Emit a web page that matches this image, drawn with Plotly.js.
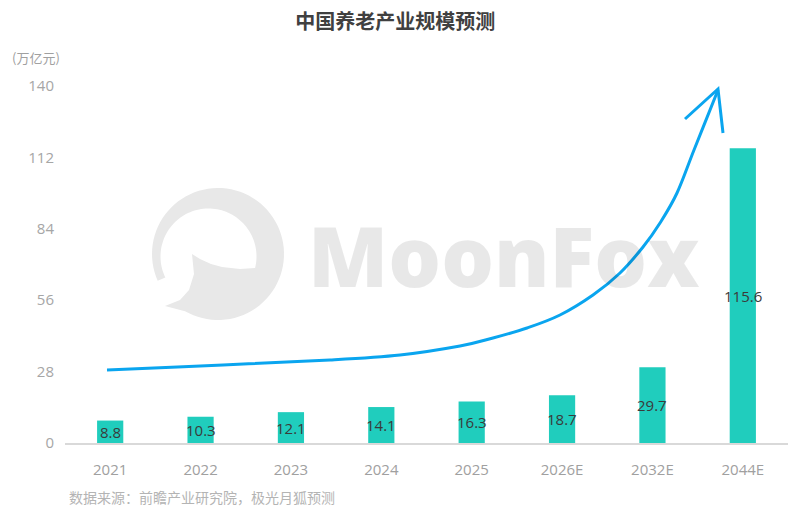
<!DOCTYPE html>
<html>
<head>
<meta charset="utf-8">
<script src="https://cdn.plot.ly/plotly-3.0.1.min.js"></script>
<style>html,body{margin:0;padding:0;background:#fff;}#chart{width:800px;height:521px;}</style>
</head>
<body>
<div id="chart"></div>
<script>
// ---- data ----
const categories = ['2021', '2022', '2023', '2024', '2025', '2026E', '2032E', '2044E'];
const values = [8.8, 10.3, 12.1, 14.1, 16.3, 18.7, 29.7, 115.6];
const yTickVals = [0, 28, 56, 84, 112, 140];
const yTickText = ['0', '28', '56', '84', '112', '140'];
const titleText = '中国养老产业规模预测';
const unitText = '(万亿元)';
const sourceText = '数据来源：前瞻产业研究院，极光月狐预测';
const watermarkText = 'MoonFox';

// ---- layout geometry (pixels) ----
const W = 800, Hh = 521;
const mL = 65, mR = 12, mT = 86, mB = 78;
const PW = W - mL - mR, PH = Hh - mT - mB;
const px = x => (x - mL) / PW;
const py = y => (mT + PH - y) / PH;

const FONT = '"Open Sans", "Noto Sans CJK SC", sans-serif';
const CJK = '"Noto Sans CJK SC", "Open Sans", sans-serif';

// decorative growth arrow (pixel guide points)
const arrowPts = [[107,370],[223,365],[330,360],[400,355],[460,346],[493,338],[527,328],[560,315],[593,295],[620,273],[643,247],[660,223],[677,193],[694,150],[718,90]];
function smoothPath(pts) {
  const P = (p) => px(p[0]).toFixed(5) + ',' + py(p[1]).toFixed(5);
  let d = 'M' + P(pts[0]);
  for (let i = 0; i < pts.length - 1; i++) {
    const p0 = pts[Math.max(i - 1, 0)], p1 = pts[i], p2 = pts[i + 1], p3 = pts[Math.min(i + 2, pts.length - 1)];
    const c1 = [p1[0] + (p2[0] - p0[0]) / 6, p1[1] + (p2[1] - p0[1]) / 6];
    const c2 = [p2[0] - (p3[0] - p1[0]) / 6, p2[1] - (p3[1] - p1[1]) / 6];
    d += ' C' + P(c1) + ' ' + P(c2) + ' ' + P(p2);
  }
  return d;
}
function polyPath(pts, close) {
  let d = '';
  pts.forEach((p, i) => { d += (i ? ' L' : 'M') + px(p[0]).toFixed(5) + ',' + py(p[1]).toFixed(5); });
  return d + (close ? ' Z' : '');
}
function arcPts(cx, cy, r, a0, a1, n) {
  const out = [];
  for (let i = 0; i <= n; i++) {
    const a = (a0 + (a1 - a0) * i / n) * Math.PI / 180;
    out.push([cx + r * Math.cos(a), cy + r * Math.sin(a)]);
  }
  return out;
}
// watermark logo outline
let logo = [];
logo = logo.concat(arcPts(218, 254, 66, 156, 480, 80));
logo.push([165, 306]);
logo = logo.concat([[180, 300], [189, 290], [194, 274], [192, 254]]);
logo = logo.concat([[200, 259], [211, 264], [222, 267], [240, 269], [255, 268]]);
logo = logo.concat(arcPts(208.5, 256.5, 48, 14, -206, 80));

const shapes = [
  { type: 'path', xref: 'paper', yref: 'paper', layer: 'below', path: polyPath(logo, true),
    fillcolor: '#e8e8e8', line: { width: 0 } },
  { type: 'path', xref: 'paper', yref: 'paper', layer: 'above', path: smoothPath(arrowPts),
    line: { color: '#0aa5ef', width: 3 } },
  { type: 'path', xref: 'paper', yref: 'paper', layer: 'above',
    path: polyPath([[685, 119], [718, 89], [723, 133]], false),
    line: { color: '#0aa5ef', width: 3 } }
];

const annotations = [
  { xref: 'paper', yref: 'paper', x: px(10), y: py(57), xanchor: 'left', yanchor: 'middle',
    text: unitText, showarrow: false, font: { family: CJK, size: 13, color: '#a0a0a0' } },
  { xref: 'paper', yref: 'paper', x: px(67), y: py(497), xanchor: 'left', yanchor: 'middle',
    text: sourceText, showarrow: false, font: { family: CJK, size: 14, color: '#b4b4b4' } },
  { xref: 'paper', yref: 'paper', x: px(504), y: py(254), xanchor: 'center', yanchor: 'middle',
    text: watermarkText, showarrow: false,
    font: { family: '"Open Sans", sans-serif', size: 83, weight: 800, color: 'rgba(0,0,0,0.09)' } }
];
categories.forEach((c, i) => {
  annotations.push({ x: i, y: values[i] / 2, xref: 'x', yref: 'y', text: values[i].toFixed(1),
    showarrow: false, xanchor: 'center', yanchor: 'middle',
    font: { family: FONT, size: 15, color: '#3a3a3a' } });
});

const trace = {
  type: 'bar', x: categories, y: values,
  marker: { color: '#20cdbd' }, hoverinfo: 'x+y', showlegend: false
};

const layout = {
  width: W, height: Hh,
  margin: { l: mL, r: mR, t: mT, b: mB, pad: 0 },
  paper_bgcolor: '#ffffff', plot_bgcolor: 'rgba(0,0,0,0)',
  bargap: 0.71,
  title: { text: titleText, x: 0.494, xanchor: 'center', y: 1 - 22 / Hh, yanchor: 'middle',
    font: { family: CJK, size: 20, weight: 'bold', color: '#404040' } },
  xaxis: { type: 'category', categoryorder: 'array', categoryarray: categories,
    range: [-0.5, categories.length - 0.5], autorange: false,
    showline: true, linecolor: '#d9d9d9', linewidth: 1.5,
    showgrid: false, zeroline: false, ticks: '', ticklabelstandoff: 12,
    tickfont: { family: FONT, size: 15, color: '#a0a0a0' } },
  yaxis: { range: [0, 140], autorange: false, tickvals: yTickVals, ticktext: yTickText, showgrid: false,
    zeroline: false, showline: false, ticks: '', ticklabelstandoff: 10,
    tickfont: { family: FONT, size: 15, color: '#a6a6a6' } },
  shapes: shapes,
  annotations: annotations
};

Plotly.newPlot('chart', [trace], layout, { displayModeBar: false, staticPlot: true });
</script>
</body>
</html>
